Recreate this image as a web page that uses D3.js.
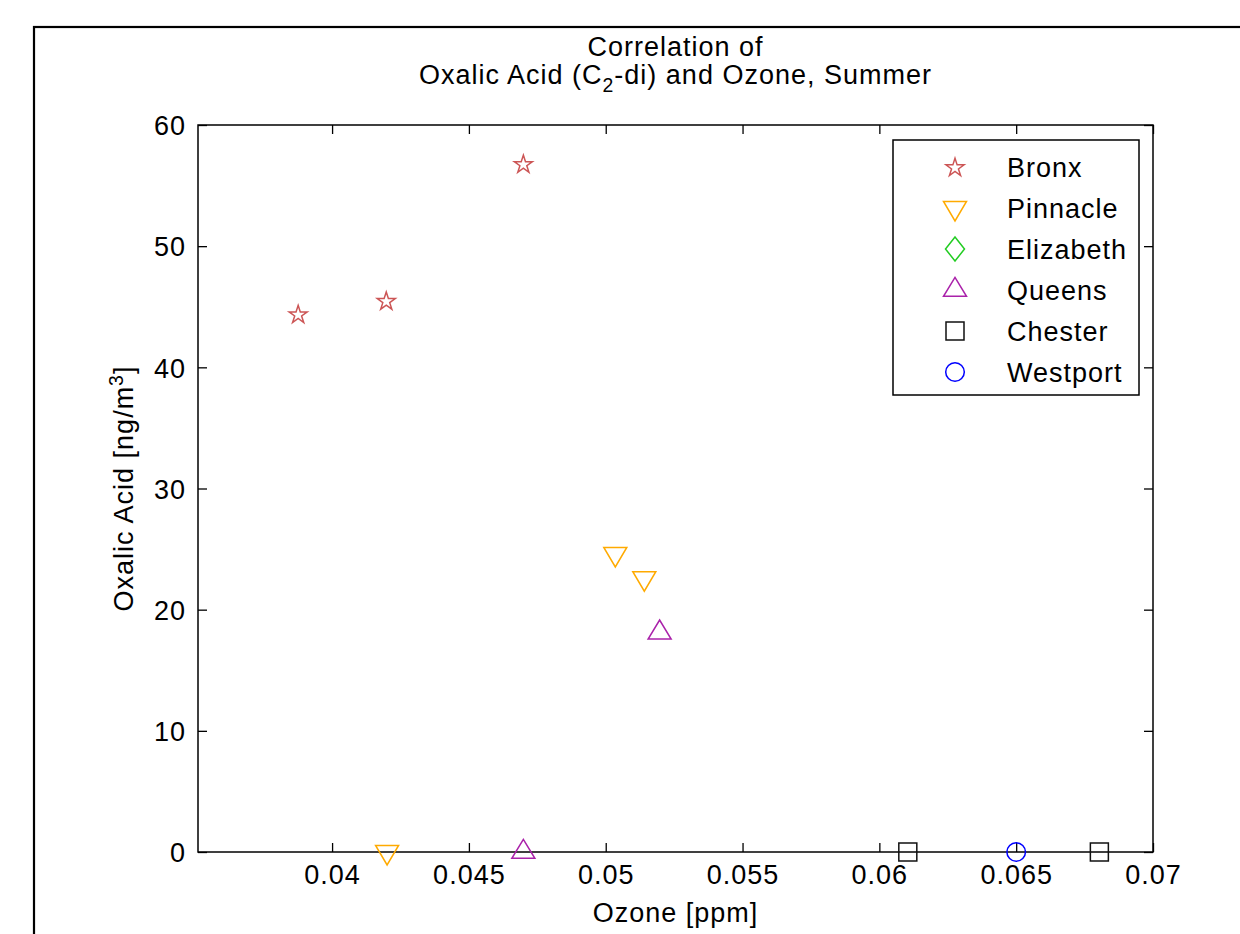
<!DOCTYPE html>
<html>
<head>
<meta charset="utf-8">
<script src="https://cdn.jsdelivr.net/npm/d3@7/dist/d3.min.js"></script>
<style>
  html, body { margin: 0; padding: 0; background: #fff; }
  svg { display: block; }
  text { font-family: "Liberation Sans", Arial, sans-serif; fill: #000; letter-spacing: 1px; }
</style>
</head>
<body>
<svg id="chart" width="1240" height="934"></svg>
<script>
// ---------------- data ----------------
const seriesNames = ["Bronx", "Pinnacle", "Elizabeth", "Queens", "Chester", "Westport"];
const bronxX = [0.03876, 0.04198, 0.04699];
const bronxY = [44.4, 45.5, 56.8];
const pinnacleX = [0.04201, 0.05035, 0.05141];
const pinnacleY = [0, 24.6, 22.6];
const elizabethX = [];
const elizabethY = [];
const queensX = [0.04699, 0.05197];
const queensY = [0, 18.1];
const chesterX = [0.06104, 0.06804];
const chesterY = [0, 0];
const westportX = [0.065];
const westportY = [0];
const xTicks = [0.04, 0.045, 0.05, 0.055, 0.06, 0.065, 0.07];
const xTickLabels = ["0.04", "0.045", "0.05", "0.055", "0.06", "0.065", "0.07"];
const yTicks = [0, 10, 20, 30, 40, 50, 60];
const yTickLabels = ["0", "10", "20", "30", "40", "50", "60"];
const xDomain = [0.0351, 0.07];
const yDomain = [0, 60];

// ---------------- layout ----------------
const W = 1240, H = 934;
const plot = { left: 198, top: 125, right: 1153, bottom: 852 };
const FS = 27;
const colors = {
  Bronx: "#cc5555", Pinnacle: "#ffaa00", Elizabeth: "#22cc22",
  Queens: "#aa22aa", Chester: "#111111", Westport: "#0000ff"
};
const shapes = {
  Bronx: "star", Pinnacle: "tridown", Elizabeth: "diamond",
  Queens: "triup", Chester: "square", Westport: "circle"
};
const seriesData = {
  Bronx: [bronxX, bronxY], Pinnacle: [pinnacleX, pinnacleY],
  Elizabeth: [elizabethX, elizabethY], Queens: [queensX, queensY],
  Chester: [chesterX, chesterY], Westport: [westportX, westportY]
};

function markerPath(shape) {
  if (shape === "star") {
    const R = 9.5, r = R * 0.382;
    const pts = [];
    for (let i = 0; i < 10; i++) {
      const a = -Math.PI / 2 + i * Math.PI / 5;
      const rr = i % 2 === 0 ? R : r;
      pts.push([rr * Math.cos(a), rr * Math.sin(a) + 0.8]);
    }
    return "M" + pts.map(p => p[0].toFixed(2) + "," + p[1].toFixed(2)).join("L") + "Z";
  }
  if (shape === "tridown") {
    const w = 23, h = 19.5;
    return `M${-w/2},${-h/3}L${w/2},${-h/3}L0,${2*h/3}Z`;
  }
  if (shape === "triup") {
    const w = 23, h = 19;
    return `M${-w/2},${h/3}L${w/2},${h/3}L0,${-2*h/3}Z`;
  }
  if (shape === "diamond") {
    const w = 19, h = 24;
    return `M0,${-h/2}L${w/2},0L0,${h/2}L${-w/2},0Z`;
  }
  if (shape === "square") {
    const s = 18;
    return `M${-s/2},${-s/2}h${s}v${s}h${-s}Z`;
  }
  if (shape === "circle") {
    const r = 9.3;
    return `M${r},0A${r},${r} 0 1,1 ${-r},0A${r},${r} 0 1,1 ${r},0Z`;
  }
}

const svg = d3.select("#chart");

// outer figure frame
svg.append("rect").attr("x", 34).attr("y", 27).attr("width", W + 20).attr("height", H + 20)
  .attr("fill", "#fff").attr("stroke", "#000").attr("stroke-width", 2.2);

const x = d3.scaleLinear().domain(xDomain).range([plot.left, plot.right]);
const y = d3.scaleLinear().domain(yDomain).range([plot.bottom, plot.top]);

const TL = 9;
// axes (ticks inward)
const xAxisB = d3.axisBottom(x).tickValues(xTicks).tickSizeInner(-TL).tickSizeOuter(0)
  .tickFormat((d, i) => xTickLabels[i]).tickPadding(TL + 4);
const xAxisT = d3.axisTop(x).tickValues(xTicks).tickSizeInner(-TL).tickSizeOuter(0).tickFormat("");
const yAxisL = d3.axisLeft(y).tickValues(yTicks).tickSizeInner(-TL).tickSizeOuter(0)
  .tickFormat((d, i) => yTickLabels[i]).tickPadding(TL + 3);
const yAxisR = d3.axisRight(y).tickValues(yTicks).tickSizeInner(-TL).tickSizeOuter(0).tickFormat("");

function styleAxis(g) {
  g.selectAll("path.domain").remove();
  g.selectAll("line").attr("stroke", "#000").attr("stroke-width", 1.3);
  g.selectAll("text").attr("font-size", FS).attr("font-family", '"Liberation Sans", Arial, sans-serif').attr("fill", "#000");
}
svg.append("g").attr("transform", `translate(0,${plot.bottom})`).call(xAxisB).call(styleAxis);
svg.append("g").attr("transform", `translate(0,${plot.top})`).call(xAxisT).call(styleAxis);
svg.append("g").attr("transform", `translate(${plot.left},0)`).call(yAxisL).call(styleAxis)
  .selectAll("text").attr("dy", "0.36em");
svg.append("g").attr("transform", `translate(${plot.right},0)`).call(yAxisR).call(styleAxis);

// plot box
svg.append("rect").attr("x", plot.left).attr("y", plot.top)
  .attr("width", plot.right - plot.left).attr("height", plot.bottom - plot.top)
  .attr("fill", "none").attr("stroke", "#000").attr("stroke-width", 1.5);

// markers
seriesNames.forEach(name => {
  const [xs, ys] = seriesData[name];
  const pts = xs.map((v, i) => [v, ys[i]]);
  svg.append("g").selectAll("path").data(pts).enter().append("path")
    .attr("d", markerPath(shapes[name]))
    .attr("transform", d => `translate(${x(d[0])},${y(d[1])})`)
    .attr("fill", "none").attr("stroke", colors[name]).attr("stroke-width", 1.5);
});

// title
const cx = (plot.left + plot.right) / 2;
svg.append("text").attr("x", cx).attr("y", 56).attr("text-anchor", "middle")
  .attr("font-size", FS).text("Correlation of");
const t2 = svg.append("text").attr("x", cx).attr("y", 84).attr("text-anchor", "middle").attr("font-size", FS);
t2.append("tspan").text("Oxalic Acid (C");
t2.append("tspan").attr("font-size", FS * 0.72).attr("dy", 8).text("2");
t2.append("tspan").attr("dy", -8).text("-di) and Ozone, Summer");

// x label
svg.append("text").attr("x", cx).attr("y", 922).attr("text-anchor", "middle")
  .attr("font-size", FS).text("Ozone [ppm]");

// y label
const yl = svg.append("text").attr("transform", `translate(133,${(plot.top + plot.bottom) / 2}) rotate(-90)`)
  .attr("text-anchor", "middle").attr("font-size", FS);
yl.append("tspan").text("Oxalic Acid [ng/m");
yl.append("tspan").attr("font-size", FS * 0.72).attr("dy", -10).text("3");
yl.append("tspan").attr("dy", 10).text("]");

// legend
const lg = { x: 893, y: 140, w: 246, h: 255 };
svg.append("rect").attr("x", lg.x).attr("y", lg.y).attr("width", lg.w).attr("height", lg.h)
  .attr("fill", "#fff").attr("stroke", "#000").attr("stroke-width", 1.5);
const legendY = d3.scalePoint().domain(seriesNames).range([167, 372]);
seriesNames.forEach(name => {
  const yy = legendY(name);
  svg.append("path").attr("d", markerPath(shapes[name]))
    .attr("transform", `translate(955,${yy})`)
    .attr("fill", "none").attr("stroke", colors[name]).attr("stroke-width", 1.5);
  svg.append("text").attr("x", 1007).attr("y", yy + 9.5).attr("font-size", FS).text(name);
});
</script>
</body>
</html>
